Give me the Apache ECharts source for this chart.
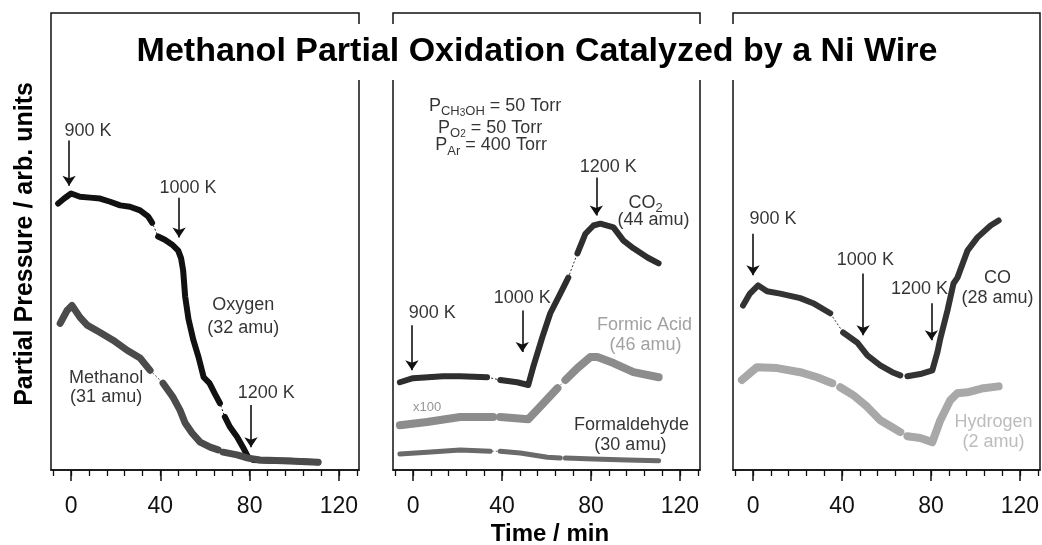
<!DOCTYPE html>
<html>
<head>
<meta charset="utf-8">
<script src="https://cdn.jsdelivr.net/npm/echarts@6/dist/echarts.min.js"></script>
<style>
  html, body { margin: 0; background: #fff; }
  #chart { width: 1042px; height: 545px; }
</style>
</head>
<body>
<div id="chart"></div>
<script>
// Time axis (min) shared by the three panels
const timeMin = -9;
const timeMax = 129;
const majorTicks = [0, 40, 80, 120];
const minorTicks = [-8, 0, 8, 16, 24, 32, 40, 48, 56, 64, 72, 80, 88, 96, 104, 112, 120, 128];

// null = break in the recorded trace (thin connector only)
const GAP = null;

// Panel 1
const oxygen = [[-5.8, 58.3], [-3.1, 59.4], [0, 60.5], [4, 59.8], [8.5, 59.6], [13, 59.4], [17.5, 58.7],
  [22, 57.9], [26.4, 57.6], [30.9, 56.8], [34.5, 55.5], [36.3, 54.1], GAP, [39, 51.1], [42, 50.4],
  [45.3, 49.3], [48, 48.0], [49.3, 46.3], [50.2, 43.7], [51.1, 38.0], [52.6, 33.0], [54.8, 28.4],
  [57.1, 24.7], [59.4, 20.3], [62, 19.0], [64.5, 16.6], [66.7, 14.6], GAP, [68.9, 11.6], [71.2, 9.4],
  [74.4, 7.2], [77, 5.0], [79.3, 2.8], [81.5, 2.2], [89, 2.0], [98, 2.0], [110.7, 1.7]];
const methanol = [[-4.9, 32.1], [-1.8, 34.9], [0.4, 36.0], [4, 33.4], [7.2, 31.7], [13, 30.1], [18.8, 28.4],
  [25.1, 26.2], [30.9, 24.5], [35.4, 21.8], GAP, [41.2, 19.0], [45.7, 15.9], [48.8, 13.1], [51.1, 10.3],
  [54.2, 8.1], [57.8, 6.1], [62.3, 5.0], [65.9, 4.4], GAP, [68.1, 3.9], [74.4, 3.3], [79.3, 2.6],
  [84.7, 2.2], [95, 2.0], [110.7, 1.7]];

// Panel 2
const co2 = [[-5.9, 19.2], [0, 20.1], [13.5, 20.5], [21.2, 20.5], [33.3, 20.3], GAP, [39.2, 19.7],
  [46.8, 19.2], [51.8, 18.6], [54, 22.5], [58.1, 29.0], [61.7, 34.3], [66.2, 38.6], [69.8, 42.1], GAP,
  [73.9, 47.4], [77.5, 51.7], [81.1, 53.5], [84.2, 53.9], [90.1, 53.1], [94.6, 50.2], [99.1, 48.5],
  [105.4, 46.5], [110.4, 45.2]];
const formicAcid = [[-5.9, 9.8], [6.3, 10.5], [21.2, 11.6], [36, 11.6], GAP, [39.2, 11.6], [51.8, 11.1],
  [58.6, 14.6], [64.9, 17.9], GAP, [68.5, 19.7], [73.9, 22.3], [79.7, 24.7], [82.9, 24.7], [90.1, 23.4],
  [99.1, 21.4], [110.4, 20.3]];
const formaldehyde = [[-5.9, 3.5], [6.3, 3.9], [21.2, 4.4], [34.7, 4.1], GAP, [39.2, 4.1], [48.2, 3.7],
  [60.4, 2.8], [66.2, 2.6], GAP, [68.5, 2.6], [81.1, 2.4], [96.4, 2.2], [110.4, 2.0]];

// Panel 3
const co = [[-4.5, 36.0], [-1.4, 38.6], [2.3, 40.4], [6.3, 39.1], [12.2, 38.6], [21.2, 37.6], [27, 36.5],
  [34.7, 34.3], GAP, [40.5, 30.1], [46.8, 27.9], [51.4, 25.1], [57.2, 22.9], [62.6, 21.4], [66.2, 20.7], GAP,
  [69.4, 20.5], [75.2, 21.0], [80.6, 21.8], [82.9, 25.8], [84.2, 28.8], [87.4, 34.9], [90.1, 40.8],
  [91.9, 42.1], [96.4, 48.0], [100.9, 50.9], [106.8, 53.5], [110.4, 54.6]];
const hydrogen = [[-5, 19.7], [-1.4, 21.2], [1.8, 22.5], [10.8, 22.3], [21.2, 21.4], [28.8, 20.3],
  [35.6, 19.0], GAP, [39.2, 18.1], [45, 16.4], [51.4, 13.8], [57.2, 10.9], [63.1, 9.2], [66.2, 8.3], GAP,
  [69.4, 7.4], [75.2, 7.0], [80.6, 6.1], [84.2, 10.9], [88.7, 15.3], [91.9, 16.8], [96.4, 17.0],
  [103.6, 17.9], [110.4, 18.3]];

// Temperature arrows: panel, time, from value, to value
const arrows = [
  [0, -0.9, 72.1, 62.2], [0, 48.4, 59.6, 50.9], [0, 80.6, 14.2, 5.0],
  [1, 82.4, 64.0, 55.7], [1, -0.5, 31.7, 21.8], [1, 49.1, 34.9, 25.8],
  [2, 0, 51.7, 42.6], [2, 49.5, 43.0, 29.5], [2, 80.2, 36.5, 28.4]
];

// Text notes: panel, time, value, text
const notes = [
  [0, 7.6, 74.2, '900 K'], [0, 52.4, 61.8, '1000 K'], [0, 77.1, 36.0, 'Oxygen'], [0, 77.1, 31.0, '(32 amu)'],
  [0, 15.7, 20.1, 'Methanol'], [0, 15.7, 15.9, '(31 amu)'], [0, 87.4, 16.8, '1200 K'],
  [1, 36.9, 79.7, '{n|P}{s|CH}{t|3}{s|OH}{n| = 50 Torr}'],
  [1, 34.7, 74.9, '{n|P}{s|O}{t|2}{n| = 50 Torr}'],
  [1, 35.1, 71.0, '{n|P}{s|Ar}{n| = 400 Torr}'],
  [1, 87.8, 66.2, '1200 K'], [1, 104.5, 58.5, '{n|CO}{s|2}'], [1, 108.1, 54.6, '(44 amu)'],
  [1, 8.6, 34.3, '900 K'], [1, 49.1, 37.6, '1000 K'],
  [1, 104.1, 31.7, 'Formic Acid'], [1, 104.5, 27.3, '(46 amu)'], [1, 6.3, 13.8, 'x100'],
  [1, 98.2, 9.8, 'Formaldehyde'], [1, 97.7, 5.5, '(30 amu)'],
  [2, 9.0, 55.0, '900 K'], [2, 50.5, 45.9, '1000 K'], [2, 74.8, 39.7, '1200 K'],
  [2, 109.9, 41.9, 'CO'], [2, 109.9, 37.6, '(28 amu)'],
  [2, 108.1, 10.5, 'Hydrogen'], [2, 108.1, 6.1, '(2 amu)']
];

const noteColor = {
  'Formic Acid': '#8a8a8a', '(46 amu)': '#8a8a8a', 'x100': '#7a7a7a',
  'Hydrogen': '#ababab', '(2 amu)': '#ababab'
};

const panels = [
  { left: 51, width: 308, curves: [
    { name: 'Oxygen', data: oxygen, color: '#111', width: 6 },
    { name: 'Methanol', data: methanol, color: '#4b4b4b', width: 7 }] },
  { left: 393, width: 307, curves: [
    { name: 'CO2', data: co2, color: '#2e2e2e', width: 6 },
    { name: 'Formic Acid', data: formicAcid, color: '#8c8c8c', width: 8 },
    { name: 'Formaldehyde', data: formaldehyde, color: '#6a6a6a', width: 5 }] },
  { left: 733, width: 307, curves: [
    { name: 'CO', data: co, color: '#333', width: 6 },
    { name: 'Hydrogen', data: hydrogen, color: '#a8a8a8', width: 8 }] }
];

const chart = echarts.init(document.getElementById('chart'));

const grids = [], xAxes = [], yAxes = [], series = [];

panels.forEach((p, i) => {
  grids.push({ left: p.left, width: p.width, top: 13, height: 457, show: true,
    outerBoundsMode: 'none', containLabel: false,
    borderColor: '#111', borderWidth: 1.5, backgroundColor: 'transparent' });

  // minor ticks + axis line
  xAxes.push({ gridIndex: i, type: 'value', position: 'bottom', min: timeMin, max: timeMax,
    axisLine: { show: true, lineStyle: { color: '#111', width: 1.5 } },
    axisTick: { show: true, customValues: minorTicks, length: 6, lineStyle: { color: '#111', width: 1.3 } },
    axisLabel: { show: false }, splitLine: { show: false } });
  // major ticks + labels
  xAxes.push({ gridIndex: i, type: 'value', position: 'bottom', offset: 0, min: timeMin, max: timeMax,
    axisLine: { show: false },
    axisTick: { show: true, customValues: majorTicks, length: 11, lineStyle: { color: '#111', width: 1.5 } },
    axisLabel: { show: true, customValues: majorTicks, fontSize: 23, color: '#111', margin: 25 },
    splitLine: { show: false } });

  yAxes.push({ gridIndex: i, type: 'value', min: 0, max: 100, show: false });

  p.curves.forEach(c => {
    // thin connector across breaks
    series.push({ type: 'line', name: c.name + ' link', xAxisIndex: 2 * i, yAxisIndex: i,
      data: c.data.filter(d => d !== GAP), showSymbol: false, silent: true, z: 1,
      lineStyle: { color: c.color, width: 1, type: [2, 2] } });
    // dense marker trace
    series.push({ type: 'line', name: c.name, xAxisIndex: 2 * i, yAxisIndex: i,
      data: c.data.map(d => d === GAP ? ['-', '-'] : d), connectNulls: false,
      showSymbol: false, silent: true, z: 2,
      lineStyle: { color: c.color, width: c.width, cap: 'round', join: 'round' } });
  });

  series.push({
    type: 'scatter', name: 'notes ' + i, xAxisIndex: 2 * i, yAxisIndex: i,
    symbolSize: 0, silent: true, z: 5,
    data: notes.filter(n => n[0] === i).map(n => ({
      value: [n[1], n[2]],
      label: {
        show: true, position: 'inside', formatter: n[3],
        color: noteColor[n[3]] || '#000',
        fontSize: n[3] === 'x100' ? 13 : 18,
        rich: {
          n: { fontSize: 18, lineHeight: 24, verticalAlign: 'middle', color: '#000' },
          s: { fontSize: 13, lineHeight: 12, verticalAlign: 'bottom', color: '#000' },
          t: { fontSize: 10, lineHeight: 10, padding: [7, 0, 0, 0], verticalAlign: 'bottom', color: '#000' }
        }
      }
    })),
    markLine: {
      silent: true, symbol: ['none', 'arrow'], symbolSize: 10, animation: false,
      label: { show: false },
      lineStyle: { color: '#111', width: 1.6, type: 'solid' },
      data: arrows.filter(a => a[0] === i).map(a => [{ coord: [a[1], a[2]] }, { coord: [a[1], a[3]] }])
    }
  });
});

chart.setOption({
  animation: false,
  backgroundColor: '#fff',
  textStyle: { fontFamily: 'Liberation Sans' },
  grid: grids,
  xAxis: xAxes,
  yAxis: yAxes,
  series: series,
  graphic: [
    { type: 'rect', z: 100, shape: { x: 118, y: 24, width: 836, height: 56 }, style: { fill: '#fff' } },
    { type: 'text', z: 101, x: 537, y: 52,
      style: { text: 'Methanol Partial Oxidation Catalyzed by a Ni Wire', fill: '#000',
        font: 'bold 34px "Liberation Sans"', align: 'center', verticalAlign: 'middle' } },
    { type: 'text', z: 101, x: 25, y: 244, rotation: Math.PI / 2,
      style: { text: 'Partial Pressure / arb. units', fill: '#000',
        font: 'bold 25px "Liberation Sans"', align: 'center', verticalAlign: 'middle' } },
    { type: 'text', z: 101, x: 550, y: 534,
      style: { text: 'Time / min', fill: '#000',
        font: 'bold 24px "Liberation Sans"', align: 'center', verticalAlign: 'middle' } }
  ]
});
</script>
</body>
</html>
